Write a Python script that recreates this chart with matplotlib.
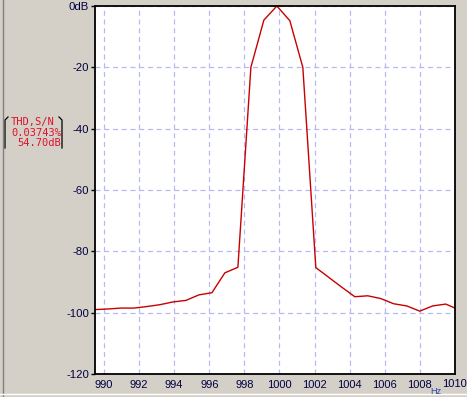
import matplotlib.pyplot as plt
from matplotlib.lines import Line2D

# spectrum around 1 kHz (Hz, dB)
freqs = [989.49, 990.23, 990.97, 991.71, 992.45, 993.19, 993.93, 994.67,
         995.41, 996.15, 996.89, 997.63, 998.37, 999.11, 999.85, 1000.59,
         1001.33, 1002.07, 1002.81, 1003.55, 1004.29, 1005.03, 1005.77,
         1006.51, 1007.25, 1007.99, 1008.73, 1009.47, 1010.21]
levels = [-99.0, -98.8, -98.5, -98.5, -98.0, -97.4, -96.5, -96.0,
          -94.2, -93.5, -87.0, -85.2, -20.0, -4.6, 0.0, -4.8,
          -20.0, -85.3, -88.5, -91.7, -94.8, -94.5, -95.4,
          -97.1, -97.8, -99.5, -97.8, -97.2, -99.0]

xticks = [990, 992, 994, 996, 998, 1000, 1002, 1004, 1006, 1008, 1010]
yticks = [0, -20, -40, -60, -80, -100, -120]
ylabels = ["0dB", "-20", "-40", "-60", "-80", "-100", "-120"]
readout = ["THD,S/N", "0.03743%", "54.70dB"]

W, H = 467, 397
fig = plt.figure(figsize=(W / 100, H / 100), dpi=100, facecolor="#d4d0c8")
ax = fig.add_axes([94.5 / W, 1 - 374 / H, (455 - 94.5) / W, (374 - 6) / H])

ax.plot(freqs, levels, color="#c80000", linewidth=1.0)
ax.set_xlim(989.46, 1010)
ax.set_ylim(-120, 0)

sans = "Liberation Sans"
ax.set_xticks(xticks)
# last label is drawn by hand so it stays inside the window
ax.set_xticklabels([str(t) for t in xticks[:-1]] + [""], family=sans)
ax.set_yticks(yticks)
ax.set_yticklabels(ylabels, family=sans)
ax.tick_params(axis="x", length=0, pad=4, labelsize=8, labelcolor="#000040")
ax.tick_params(axis="y", length=3, width=1, pad=1, labelsize=8.2, labelcolor="#000040")
ax.grid(True, color="#b8b8f4", linestyle=(0, (4, 3)), linewidth=0.9)
for s in ax.spines.values():
    s.set_linewidth(1.3)
    s.set_color("black")

fig.text(467 / W, 1 - 384 / H, str(xticks[-1]), color="#000040", fontsize=8,
         family=sans, ha="right", va="center")
fig.text(435.5 / W, 1 - 391 / H, "Hz", color="#2848a8", fontsize=6.6,
         family=sans, ha="center", va="center")

# THD / S/N readout box on the left
mono = "DejaVu Sans Mono"
fig.text(33 / W, 1 - 122 / H, readout[0], color="#e0102a", fontsize=7.5,
         family=mono, ha="center", va="center")
fig.text(61 / W, 1 - 132.5 / H, readout[1], color="#e0102a", fontsize=7.5,
         family=mono, ha="right", va="center")
fig.text(61 / W, 1 - 143 / H, readout[2], color="#e0102a", fontsize=7.5,
         family=mono, ha="right", va="center")
fig.add_artist(Line2D([8 / W, 5 / W, 5 / W], [1 - 117 / H, 1 - 120 / H, 1 - 148 / H],
                      color="black", linewidth=0.9))
fig.add_artist(Line2D([59 / W, 62 / W, 62 / W], [1 - 117 / H, 1 - 120 / H, 1 - 148 / H],
                      color="black", linewidth=0.9))

# window frame lines
fig.add_artist(Line2D([2.5 / W, 2.5 / W], [0, 1], color="#808080", linewidth=1))
fig.add_artist(Line2D([0, 1], [1 - 394 / H, 1 - 394 / H], color="white", linewidth=1))

fig.savefig("out.png", dpi=100, facecolor=fig.get_facecolor())
